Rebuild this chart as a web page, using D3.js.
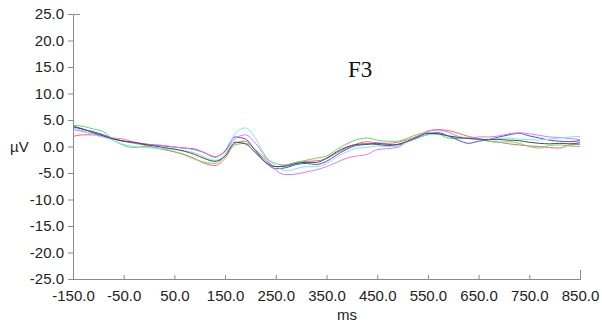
<!DOCTYPE html>
<html>
<head>
<meta charset="utf-8">
<script src="https://cdn.jsdelivr.net/npm/d3@7"></script>
<style>
  body { margin: 0; background: #fff; }
  text { font-family: "Liberation Sans", Arial, sans-serif; }
</style>
</head>
<body>
<div id="chart"></div>
<script>
// time points (ms), 20 ms steps
const times = d3.range(-150, 851, 20);

// amplitude (µV) per condition
const redVals = [1.9, 2.2, 2.2, 1.8, 1.5, 1.0, 0.6, 0.3, -0.2, -0.6, -1.0, -1.5, -2.3, -3.2, -3.6, -2.2, 0.6, 1.0, -0.8, -2.6, -3.8, -3.5, -3.0, -2.8, -2.7, -2.3, -1.2, -0.3, 0.5, 0.9, 0.7, 0.6, 0.8, 1.3, 2.0, 2.9, 3.2, 3.0, 2.5, 1.9, 1.5, 1.0, 0.8, 0.5, 0.3, 0.1, 0.0, -0.2, -0.3, 0.3, 0.4];
const greenVals = [4.0, 3.8, 3.3, 2.8, 1.2, 0.2, -0.2, 0.0, -0.2, -0.5, -1.0, -1.6, -2.4, -3.0, -3.2, -1.8, 0.3, 0.6, -0.6, -2.2, -3.2, -3.5, -3.0, -2.6, -2.2, -1.8, -0.6, 0.5, 1.3, 1.6, 1.2, 1.0, 1.0, 1.6, 2.3, 2.6, 2.4, 1.6, 1.5, 1.6, 1.3, 1.0, 0.8, 0.9, 0.6, 0.0, -0.3, 0.2, 0.3, 0.1, 0.0];
const blueVals = [3.7, 3.2, 2.8, 2.2, 1.5, 1.0, 0.8, 0.5, 0.3, 0.1, -0.1, -0.3, -0.5, -1.2, -2.0, -0.8, 1.8, 1.4, -0.8, -3.0, -4.2, -4.0, -3.4, -3.2, -3.4, -2.8, -1.6, -0.5, 0.2, 0.4, 0.6, 0.4, 0.3, 0.9, 1.6, 2.3, 2.6, 2.0, 1.2, 0.6, 1.0, 1.3, 1.8, 2.2, 2.5, 2.0, 1.6, 1.2, 1.0, 0.9, 1.1];
const magentaVals = [3.2, 2.8, 2.4, 2.0, 1.6, 1.4, 0.8, 0.4, 0.3, 0.2, -0.1, -0.3, -0.6, -1.2, -1.9, -1.0, 1.5, 2.2, 0.6, -2.0, -4.5, -5.3, -5.2, -4.8, -4.4, -3.8, -3.0, -2.2, -1.8, -1.5, -0.6, -0.4, -0.2, 1.0, 1.8, 2.9, 3.1, 2.7, 1.9, 1.6, 1.8, 1.8, 2.0, 2.4, 2.6, 2.4, 2.1, 1.8, 1.7, 1.5, 1.3];
const cyanVals = [3.5, 3.0, 2.2, 1.8, 1.1, 0.4, 0.0, -0.2, -0.3, -0.4, -0.5, -0.8, -1.2, -2.0, -2.6, -1.5, 2.5, 3.5, 1.5, -1.8, -3.6, -4.6, -4.2, -3.8, -3.8, -3.2, -2.0, -1.0, -0.3, -0.2, 0.1, 0.0, 0.0, 0.9, 1.6, 2.2, 2.3, 2.0, 1.8, 1.5, 1.3, 1.3, 1.5, 1.6, 1.4, 1.3, 1.2, 1.4, 1.6, 1.8, 1.9];
const darkVals = [3.8, 3.3, 2.6, 2.0, 1.4, 1.0, 0.8, 0.4, 0.1, -0.2, -0.5, -0.9, -1.5, -2.3, -2.8, -1.8, 0.8, 0.5, -1.2, -3.0, -3.8, -3.7, -3.2, -3.0, -3.0, -2.2, -1.0, -0.1, 0.4, 0.5, 0.4, 0.2, 0.4, 1.0, 1.8, 2.5, 2.4, 2.0, 1.7, 1.5, 1.4, 1.3, 1.3, 1.2, 1.1, 0.8, 0.6, 0.5, 0.6, 0.5, 0.7];

const seriesNames = ['red', 'green', 'blue', 'magenta', 'cyan', 'dark'];
const seriesColors = ['#f06a6a', '#66d866', '#4a4af0', '#e27ae8', '#7ae6f2', '#4a4a4a'];
const seriesVals = [redVals, greenVals, blueVals, magentaVals, cyanVals, darkVals];

const xTicks = d3.range(-150, 851, 100);
const yTicks = d3.range(-25, 26, 5);

const width = 602, height = 327;
const margin = {top: 14, right: 22, bottom: 48, left: 73};
const innerW = width - margin.left - margin.right;
const innerH = height - margin.top - margin.bottom;

const svg = d3.select('#chart').append('svg')
    .attr('width', width)
    .attr('height', height);

const g = svg.append('g')
    .attr('transform', 'translate(' + margin.left + ',' + margin.top + ')');

const x = d3.scaleLinear().domain([-150, 850]).range([0, innerW]);
const y = d3.scaleLinear().domain([-25, 25]).range([innerH, 0]);

// lines first so the axes sit on top
const line = d3.line()
    .x((d, i) => x(times[i]))
    .y(d => y(d))
    .curve(d3.curveMonotoneX);

g.selectAll('.trace')
    .data(seriesVals)
    .enter()
    .append('path')
    .attr('class', 'trace')
    .attr('fill', 'none')
    .attr('stroke', (d, i) => seriesColors[i])
    .attr('stroke-width', 1)
    .attr('d', d => line(d));

const axisColor = '#8a8a8a';
// plain hyphen for negatives, like the original software
const fmt = v => v.toFixed(1);

const yAxis = g.append('g')
    .call(d3.axisLeft(y).tickValues(yTicks).tickFormat(fmt)
        .tickSizeInner(5).tickSizeOuter(-7).tickPadding(4));

const xAxis = g.append('g')
    .attr('transform', 'translate(0,' + innerH + ')')
    .call(d3.axisBottom(x).tickValues(xTicks).tickFormat(fmt)
        .tickSizeInner(-4).tickSizeOuter(-9).tickPadding(11));

[yAxis, xAxis].forEach(a => {
  a.selectAll('path, line').attr('stroke', axisColor);
  a.selectAll('text').attr('fill', '#222').style('font-size', '15px')
      .style('font-family', '"Liberation Sans", Arial, sans-serif');
});

// axis titles
svg.append('text')
    .attr('x', 10)
    .attr('y', y(0) + margin.top + 5)
    .attr('fill', '#222')
    .style('font-size', '15px')
    .text('µV');

svg.append('text')
    .attr('x', 347)
    .attr('y', 320)
    .attr('text-anchor', 'middle')
    .attr('fill', '#222')
    .style('font-size', '15px')
    .text('ms');

// electrode label
svg.append('text')
    .attr('x', 348)
    .attr('y', 77)
    .attr('fill', '#111')
    .style('font-family', '"Liberation Serif", "Times New Roman", serif')
    .style('font-size', '23px')
    .text('F3');
</script>
</body>
</html>
